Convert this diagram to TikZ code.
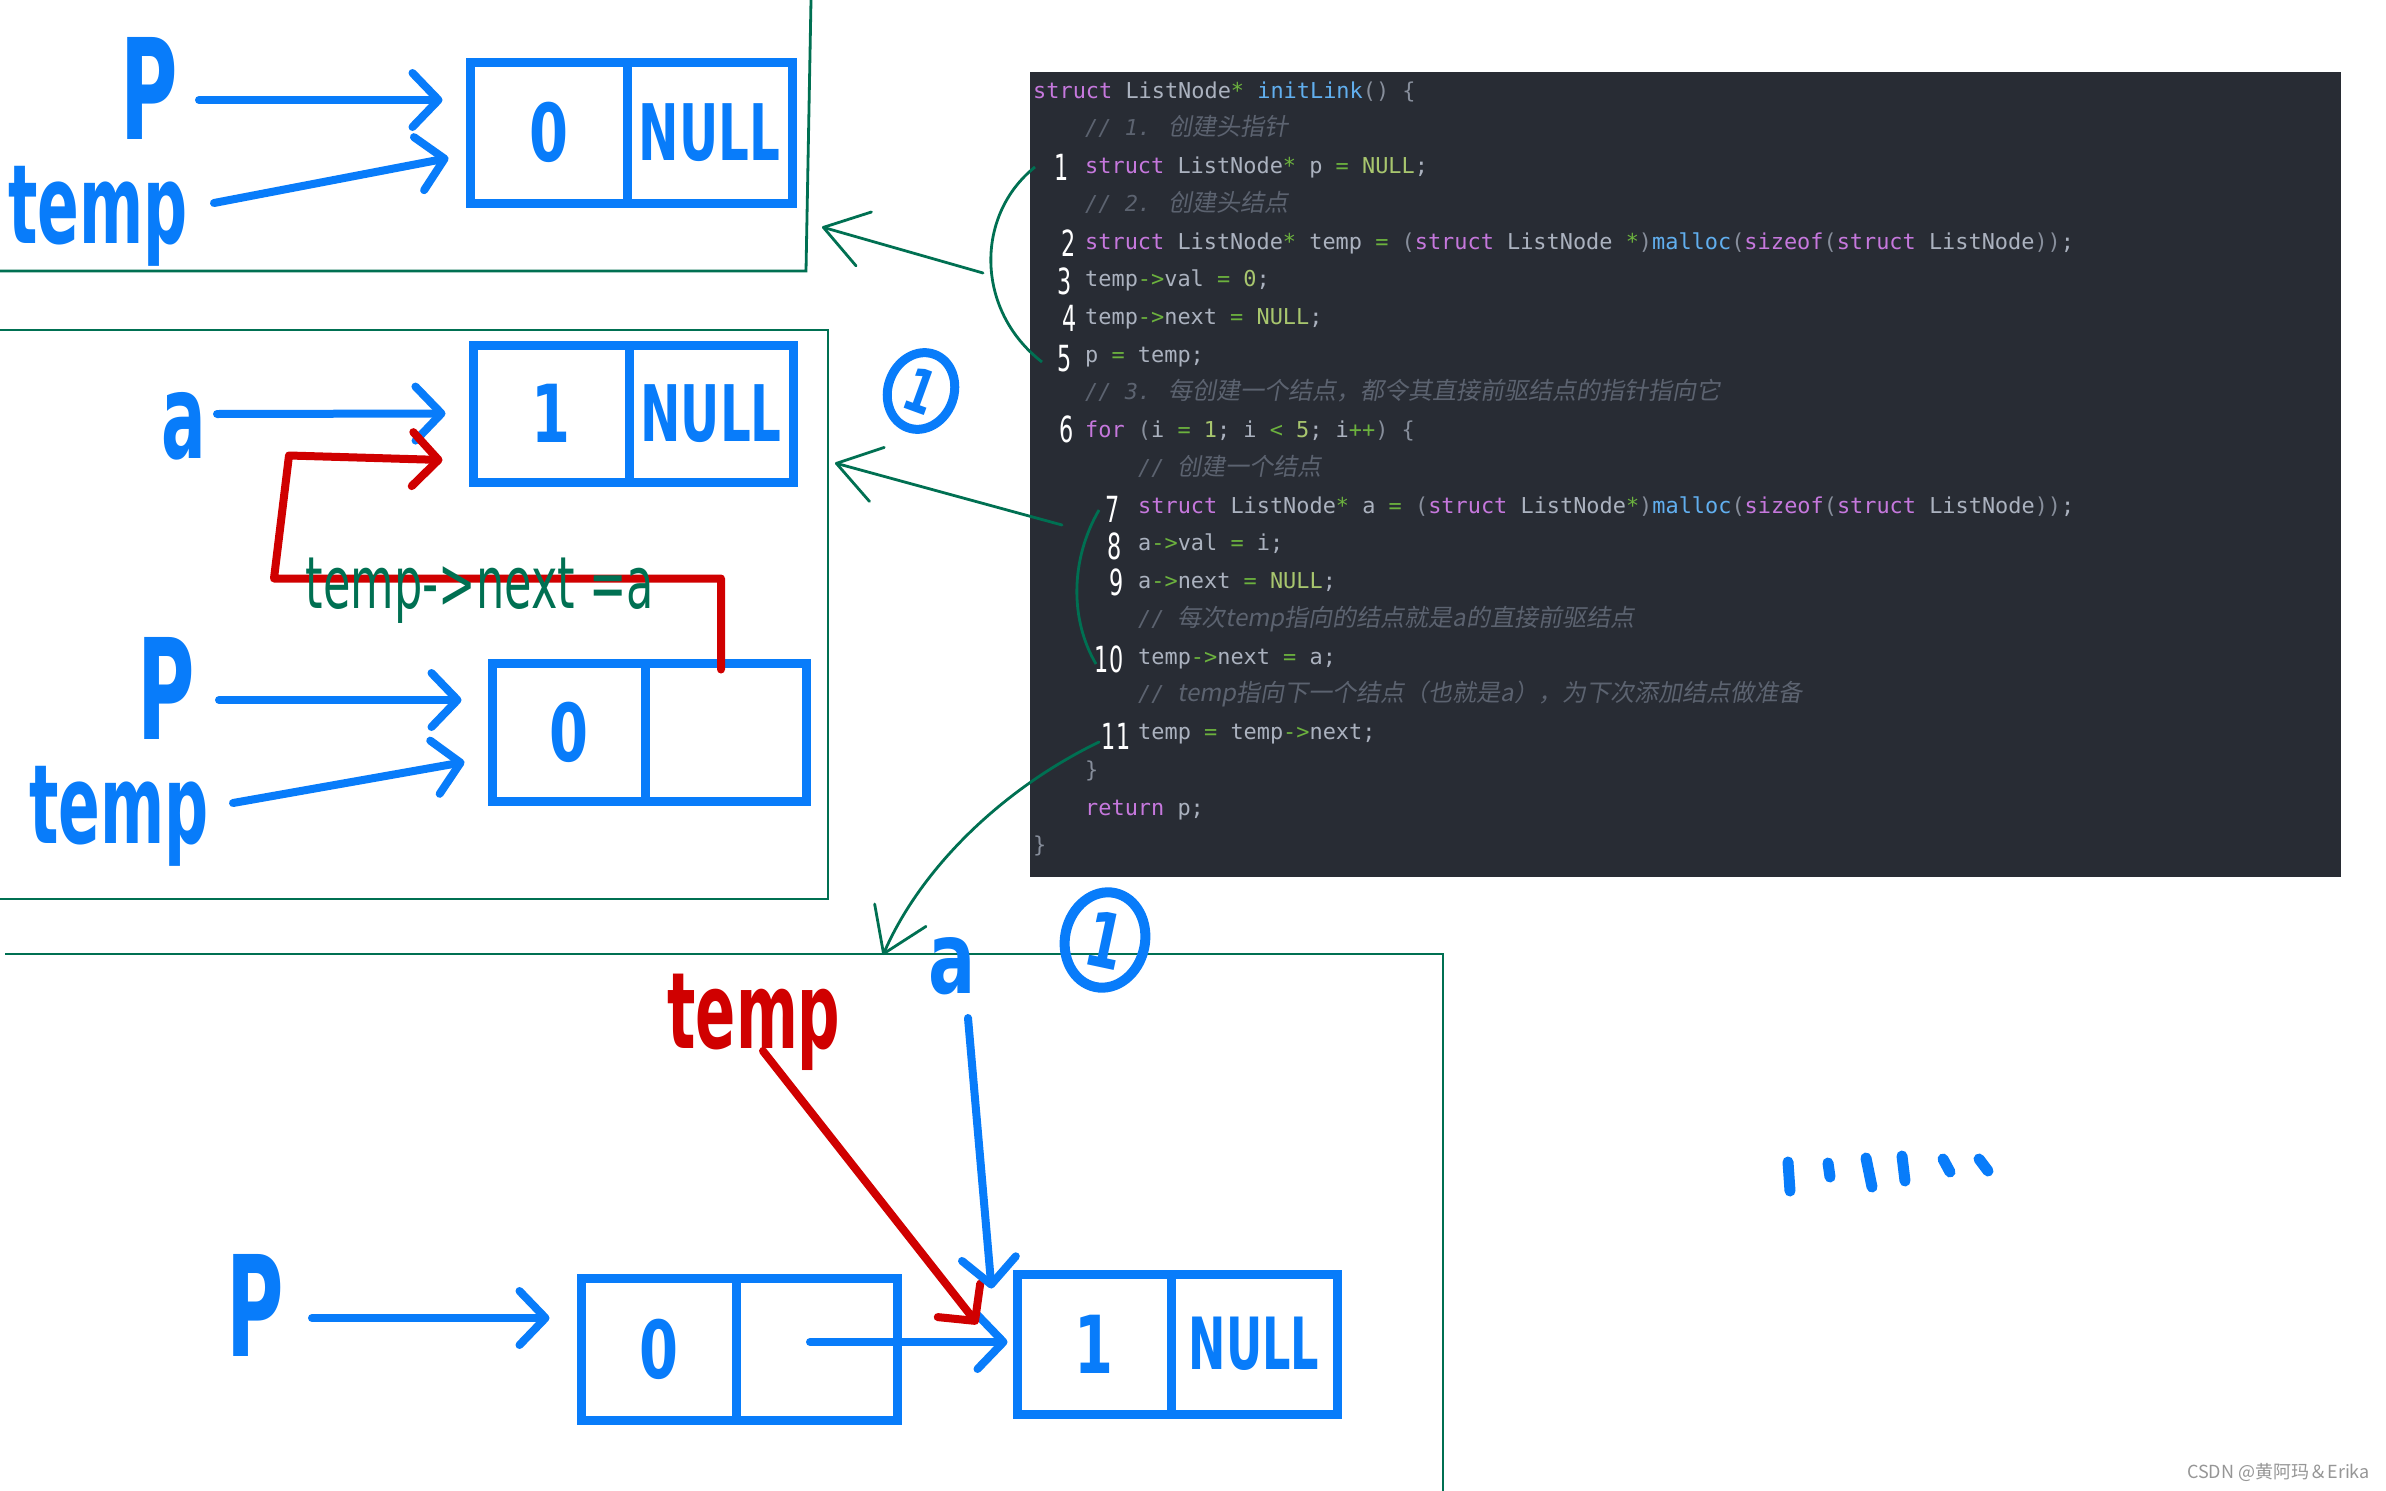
\documentclass[tikz,border=0pt]{standalone}
\usepackage{fontspec}
\usetikzlibrary{arrows.meta,shapes.geometric}
\newfontfamily\codefont{DejaVu Sans Mono}
\newfontfamily\cjk{Noto Sans CJK SC}
\newfontfamily\cjkit[FakeSlant=0.18]{Noto Sans CJK SC}
\newfontfamily\hand[FakeStretch=0.7]{DejaVu Sans}
\newfontfamily\handt[FakeStretch=0.56]{DejaVu Sans}
\newfontfamily\handc[FakeStretch=0.62]{DejaVu Sans}
\newcommand\fsz[1]{\fontsize{#1}{#1}\selectfont}
\definecolor{hblue}{RGB}{8,124,250}
\definecolor{hred}{RGB}{208,0,0}
\definecolor{hgreen}{RGB}{0,112,82}
\definecolor{cbg}{RGB}{40,44,52}
\definecolor{ctx}{RGB}{171,178,191}
\definecolor{ckw}{RGB}{198,120,221}
\definecolor{cfn}{RGB}{97,175,239}
\definecolor{cop}{RGB}{108,178,62}
\definecolor{clit}{RGB}{168,198,110}
\definecolor{ccm}{RGB}{92,99,112}
\definecolor{cpu}{RGB}{135,142,155}
\definecolor{wmk}{RGB}{150,150,150}
\newcommand\Ck[1]{\textcolor{ckw}{#1}}
\newcommand\Cf[1]{\textcolor{cfn}{#1}}
\newcommand\Co[1]{\textcolor{cop}{#1}}
\newcommand\Cl[1]{\textcolor{clit}{#1}}
\newcommand\Cp[1]{\textcolor{cpu}{#1}}
\newcommand\Cm[2]{{\color{ccm}\itshape #1{\cjkit\fsz{24}#2}}}
\begin{document}
\begin{tikzpicture}[x=1pt,y=-1pt,
  hl/.style={inner sep=0pt, text=hblue},
  cellbox/.style={draw=hblue, line width=9pt, inner sep=0pt, text=hblue, font=\hand\bfseries\fsz{80}},
  hb/.style={draw=hblue, line width=8pt, line cap=round, -{Straight Barb[length=26pt,width=54pt,round]}},
  rb/.style={draw=hred, line width=8pt, line cap=round, line join=round, -{Straight Barb[length=26pt,width=54pt,round]}},
  ga/.style={draw=hgreen, line width=2.8pt, line cap=round, -{Straight Barb[length=42pt,width=56pt,round]}},
  gl/.style={draw=hgreen, line width=2.8pt},
  code/.style={anchor=base west, inner sep=0pt, text=ctx, font=\codefont\fsz{21.9}},
  wnum/.style={inner sep=0pt, text=white, font=\handc\fsz{36}},
]
\useasboundingbox (0,0) rectangle (2386,1491);
\fill[white] (0,0) rectangle (2386,1491);

% ---------- panel frames ----------
\draw[gl] (811,0) -- (806,271) -- (0,271);
\draw[gl] (0,330) -- (828,330) -- (828,899) -- (0,899);
\draw[gl] (5,954) -- (1443,954) -- (1443,1491);

% ---------- code block ----------
\fill[cbg] (1030,72) rectangle (2341,877);
\node[code] (L1) at (1033,98.0) {\Ck{struct} ListNode\Co{*} \Cf{initLink}\Cp{() \{}};
\node[code] (L2) at (1085,135.7) {\Cm{// 1. }{创建头指针}};
\node[code] (L3) at (1085,173.5) {\Ck{struct} ListNode\Co{*} p \Co{=} \Cl{NULL};};
\node[code] (L4) at (1085,211.2) {\Cm{// 2. }{创建头结点}};
\node[code] (L5) at (1085,249.0) {\Ck{struct} ListNode\Co{*} temp \Co{=} \Cp{(}\Ck{struct} ListNode \Co{*}\Cp{)}\Cf{malloc}\Cp{(}\Ck{sizeof}\Cp{(}\Ck{struct} ListNode\Cp{))};};
\node[code] (L6) at (1085,286.7) {temp\Co{->}val \Co{=} \Cl{0};};
\node[code] (L7) at (1085,324.4) {temp\Co{->}next \Co{=} \Cl{NULL};};
\node[code] (L8) at (1085,362.2) {p \Co{=} temp;};
\node[code] (L9) at (1085,399.9) {\Cm{// 3. }{每创建一个结点，都令其直接前驱结点的指针指向它}};
\node[code] (L10) at (1085,437.7) {\Ck{for} \Cp{(}i \Co{=} \Cl{1}; i \Co{<} \Cl{5}; i\Co{++}\Cp{)} \Cp{\{}};
\node[code] (L11) at (1138,475.4) {\Cm{// }{创建一个结点}};
\node[code] (L12) at (1138,513.1) {\Ck{struct} ListNode\Co{*} a \Co{=} \Cp{(}\Ck{struct} ListNode\Co{*}\Cp{)}\Cf{malloc}\Cp{(}\Ck{sizeof}\Cp{(}\Ck{struct} ListNode\Cp{))};};
\node[code] (L13) at (1138,550.9) {a\Co{->}val \Co{=} i;};
\node[code] (L14) at (1138,588.6) {a\Co{->}next \Co{=} \Cl{NULL};};
\node[code] (L15) at (1138,626.4) {\Cm{// }{每次temp指向的结点就是a的直接前驱结点}};
\node[code] (L16) at (1138,664.1) {temp\Co{->}next \Co{=} a;};
\node[code] (L17) at (1138,701.8) {\Cm{// }{temp指向下一个结点（也就是a），为下次添加结点做准备}};
\node[code] (L18) at (1138,739.6) {temp \Co{=} temp\Co{->}next;};
\node[code] (L19) at (1085,777.3) {\Cp{\}}};
\node[code] (L20) at (1085,815.1) {\Ck{return} p;};
\node[code] (L21) at (1033,852.8) {\Cp{\}}};

% handwritten line numbers
\node[wnum] (n1) at (1062,167) {1};
\node[wnum] (n2) at (1069,243) {2};
\node[wnum] (n3) at (1065,281) {3};
\node[wnum] (n4) at (1070,318) {4};
\node[wnum] (n5) at (1065,359) {5};
\node[wnum] (n6) at (1067,429) {6};
\node[wnum] (n7) at (1113,509) {7};
\node[wnum] (n8) at (1115,546) {8};
\node[wnum] (n9) at (1117,582) {9};
\node[wnum] (n10) at (1109,659) {10};
\node[wnum] (n11) at (1116,736) {11};

% green brackets and arrows
\draw[gl] (1035,167) .. controls (975,215) and (975,310) .. (1042,362);
\coordinate (g1s) at (983,273);
\coordinate (g1e) at (822,227);
\draw[ga] (g1s) -- (g1e);
\draw[gl] (1099,510) .. controls (1070,560) and (1070,620) .. (1096,664);
\coordinate (g2s) at (1062,525);
\coordinate (g2e) at (835,463);
\draw[ga] (g2s) -- (g2e);
\coordinate (g3s) at (1099,742);
\coordinate (g3e) at (883,955);
\draw[ga] (g3s) .. controls (1000,790) and (920,870) .. (g3e);

% ---------- panel 1 ----------
\node[cellbox, minimum width=157pt, minimum height=141pt] (b1v) at (548.5,132.5) {0};
\node[cellbox, minimum width=165pt, minimum height=141pt, font=\handc\bfseries\fsz{78}] (b1n) at (709.5,132.5) {NULL};
\node[hl, anchor=east, font=\handt\bfseries\fsz{140}] (P1) at (178,88) {P};
\node[hl, anchor=east, font=\handt\bfseries\fsz{110}] (T1) at (188,216) {temp};
\draw[hb] ([xshift=21pt,yshift=-12pt]P1.east) -- ([xshift=-23pt,yshift=32.5pt]b1v.west);
\draw[hb] ([xshift=26pt,yshift=13pt]T1.east) -- ([xshift=-17pt,yshift=-25.5pt]b1v.west);

% ---------- panel 2 ----------
\node[cellbox, minimum width=156pt, minimum height=137pt] (b2v) at (551,413.5) {1};
\node[cellbox, minimum width=164pt, minimum height=137pt, font=\handc\bfseries\fsz{78}] (b2n) at (711,413.5) {NULL};
\node[cellbox, minimum width=153pt, minimum height=138pt] (b3v) at (568.5,732) {0};
\node[cellbox, minimum width=161pt, minimum height=138pt] (b3n) at (725.5,732) {};
\node[hl, anchor=east, font=\handt\bfseries\fsz{118}] (A2) at (206,426) {a};
\node[hl, anchor=east, font=\handt\bfseries\fsz{140}] (P2) at (195,688) {P};
\node[hl, anchor=east, font=\handt\bfseries\fsz{110}] (T2) at (209,816) {temp};
\draw[hb] ([xshift=11pt,yshift=12pt]A2.east) -- ([xshift=-23pt]b2v.west);
\draw[hb] ([xshift=24pt,yshift=-12pt]P2.east) -- ([xshift=-26pt,yshift=32pt]b3v.west);
\draw[hb] ([xshift=24pt,yshift=13pt]T2.east) -- ([xshift=-23pt,yshift=-30pt]b3v.west);
\draw[rb] ([xshift=-4.5pt,yshift=-11pt]b3n.north) -- ++(0,-91) -- ++(-447,0) -- ++(15,-123) -- ([xshift=-26pt,yshift=-46.5pt]b2v.west);
\node[inner sep=0pt, text=hgreen, font=\handc\fsz{72}] (lbl) at (480,591) {temp->next =a};
\node[ellipse, draw=hblue, line width=9pt, minimum width=66pt, minimum height=78pt, inner sep=0pt, rotate=-20, text=hblue, font=\hand\bfseries\fsz{60}] (c2) at (921,391) {1};

% ---------- panel 3 ----------
\node[cellbox, minimum width=155pt, minimum height=142pt] (b4v) at (658.5,1349) {0};
\node[cellbox, minimum width=161pt, minimum height=142pt] (b4n) at (816.5,1349) {};
\node[cellbox, minimum width=154pt, minimum height=140pt] (b5v) at (1094,1344) {1};
\node[cellbox, minimum width=166pt, minimum height=140pt, font=\handc\bfseries\fsz{72}] (b5n) at (1254,1344) {NULL};
\node[hl, anchor=east, font=\handt\bfseries\fsz{140}] (P3) at (284,1305) {P};
\node[inner sep=0pt, text=hred, font=\handt\bfseries\fsz{106}] (T3) at (754,1022) {temp};
\node[hl, font=\hand\bfseries\fsz{100}] (A3) at (952,966) {a};
\node[ellipse, draw=hblue, line width=10pt, minimum width=80pt, minimum height=96pt, inner sep=0pt, rotate=-12, text=hblue, font=\hand\bfseries\fsz{76}] (c3) at (1105,940) {1};
\draw[hb] ([xshift=28pt,yshift=-13pt]P3.east) -- ([xshift=-27pt,yshift=31pt]b4v.west);
\draw[hb] ([xshift=-6.5pt,yshift=7pt]b4n.center) -- ([xshift=-5pt,yshift=2pt]b5v.west);
\draw[rb] ([xshift=9pt,yshift=-29pt]T3.center) -- ([xshift=-35pt,yshift=20pt]b5v.west);
\draw[hb] ([xshift=16pt,yshift=-52pt]A3.center) -- ([xshift=-21pt,yshift=-19pt]b5v.north west);

% handwritten ellipsis
\draw[hblue, line width=11pt, line cap=round]
  (1788,1162) -- (1790,1191)
  (1828,1163) -- (1830,1177)
  (1866,1158) -- (1872,1187)
  (1902,1156) -- (1905,1181)
  (1943,1159) -- (1950,1172)
  (1979,1159) -- (1988,1171);

% watermark
\node[anchor=east, inner sep=0pt, text=wmk, font=\cjk\fsz{18}] (wm) at (2370,1472) {CSDN @黄阿玛＆Erika};
\end{tikzpicture}
\end{document}
